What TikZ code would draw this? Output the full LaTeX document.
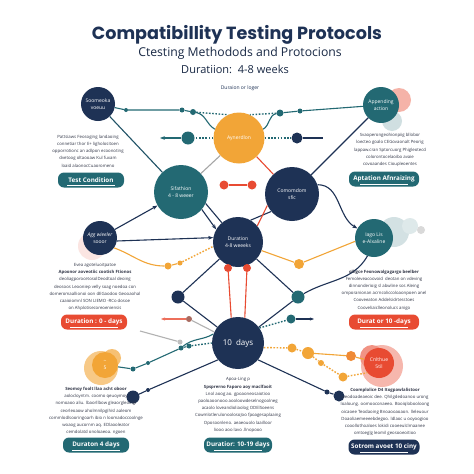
\documentclass[tikz,border=0pt]{standalone}
\usepackage{fontspec}
\setmainfont{Open Sans}
\newfontfamily\titlefont{Poppins}
\usetikzlibrary{arrows.meta}
\definecolor{navy}{RGB}{30,50,85}
\definecolor{tealc}{RGB}{35,105,115}
\definecolor{orangec}{RGB}{242,165,55}
\definecolor{redc}{RGB}{232,75,50}
\definecolor{bodytext}{RGB}{50,55,72}
\begin{document}
\begin{tikzpicture}[x=1pt,y=-1pt,
                    hubnode/.style={circle,fill=#1,text=white,inner sep=0pt,align=center,font=\fontsize{5}{6.5}\selectfont},
                    dot/.style={circle,fill=#1,inner sep=0pt,minimum size=9pt},
                    smalldot/.style={circle,fill=#1,inner sep=0pt,minimum size=5pt},
                    btn/.style={rounded corners=6pt,fill=#1,text=white,minimum width=66pt,minimum height=15pt,inner sep=0pt,font=\fontsize{6.3}{7}\selectfont\bfseries},
                    blurb/.style={align=center,text=bodytext,font=\fontsize{4.3}{7.2}\selectfont},
                    link/.style={line width=1.1pt,draw=#1},
                    dotlink/.style={line width=1.4pt,draw=#1,dash pattern=on 1.6pt off 1.6pt}]
\useasboundingbox[fill=white] (0,0) rectangle (474,474);

% heading
\node[text=navy,font=\titlefont\bfseries\fontsize{17.6}{20}\selectfont] (title) at (237,35) {Compatibillity Testing Protocols};
\node[text=navy!80!black,font=\fontsize{12.2}{14}\selectfont] (subtitle) at (240,53) {Ctesting Methodods and Protocions};
\node[text=navy!80!black,font=\fontsize{11}{13}\selectfont] (duration) at (235,69) {Duratiion:\ \ 4-8 weeks};
\node[text=navy,font=\fontsize{5}{6}\selectfont] (longer) at (240,88) {Duraion or loger};

% soft bubbles behind
\fill[redc!70,opacity=0.6] (399,100) circle (12);
\fill[tealc!30,opacity=0.7] (392,121) circle (10);
\fill[redc!20,opacity=0.7] (92,246) circle (14);
\fill[tealc!25,opacity=0.8] (394,232) circle (15);
\fill[tealc!15] (410,226) circle (8);
\fill[gray!30] (421,230) circle (4);
\fill[orangec!60] (101,368) circle (17);
\fill[orangec!70] (112,358) circle (9);
\fill[redc!40] (382,366) circle (21);
\fill[redc!60] (372,357) circle (12);

% circles
\node[hubnode=navy,minimum size=34pt] (tl) at (98,104) {Soomeoka\\voeuu};
\node[hubnode=tealc,minimum size=36pt] (tr) at (381,105) {Appending\\action};
\node[hubnode=orangec,minimum size=51pt] (hub) at (239,138) {Aynerdlon};
\node[hubnode=tealc,minimum size=54pt] (lt) at (181,192) {Sifathion\\4 - 8 weeer};
\node[hubnode=navy,minimum size=54pt] (rn) at (292,194) {Comomdom\\sfic};
\node[hubnode=navy,minimum size=50pt] (cn) at (238,242) {Duration\\4-8 weeeks};
\node[hubnode=navy,minimum size=52pt,font=\fontsize{8}{9}\selectfont] (bn) at (238,343) {10\ \ days};
\node[hubnode=navy,minimum size=34pt] (lm) at (100,238) {\itshape Agg wieeler\\sooor};
\node[hubnode=tealc,minimum size=38pt] (rm) at (374,238) {Iago Lis\\e-Alxaline};
\node[hubnode=orangec,minimum size=26pt] (bl) at (105,365) {\textasciitilde\\5};
\node[hubnode=redc,minimum size=30pt] (br) at (379,363) {Cnlthue\\5til};

% small dots
\node[smalldot=tealc,minimum size=4pt] (s1) at (126,110) {};
\node[smalldot=tealc] (s2) at (182,110) {};
\node[smalldot=tealc,minimum size=6pt] (s3) at (193,112) {};
\node[smalldot=tealc,minimum size=7pt] (s4) at (280,113) {};
\node[smalldot=tealc] (s5) at (300,111) {};
\node[dot=tealc,minimum size=13pt] (td1) at (188,138) {};
\node[dot=navy,minimum size=11pt] (nd1) at (297,138) {};
\coordinate (w1) at (160,138);
\coordinate (e1) at (323,138);
\node[dot=redc] (rd1) at (224,185) {};
\node[dot=redc] (rd2) at (252,185) {};
\node[smalldot=orangec,minimum size=7pt] (o1) at (168,266) {};
\node[smalldot=orangec] (o2) at (180,263) {};
\node[dot=orangec,minimum size=10pt] (o3) at (299,264) {};
\node[dot=redc,minimum size=8pt] (rd3) at (228,268) {};
\node[dot=redc,minimum size=8pt] (rd4) at (247,268) {};
\node[dot=navy,minimum size=13pt] (nd2) at (178,297) {};
\node[dot=tealc,minimum size=13pt] (td2) at (298,297) {};
\node[smalldot=redc!40!gray,minimum size=6pt] (pd) at (189,319) {};
\coordinate (w2) at (161,319);
\node[dot=tealc] (td3) at (291,319) {};
\coordinate (e2) at (314,319);
\coordinate (g0) at (140,331);
\node[smalldot=gray!50] (gd) at (180,342) {};
\node[smalldot=tealc] (t4) at (181,348) {};
\node[smalldot=tealc] (t5) at (189,346) {};
\node[smalldot=tealc,minimum size=4pt] (t6) at (148,363) {};
\node[smalldot=tealc] (t7) at (133,369) {};
\node[dot=orangec] (o4) at (292,348) {};
\node[dot=orangec,minimum size=12pt] (o5) at (308,353) {};
\node[smalldot=orangec,minimum size=6pt] (o6) at (321,363) {};
\node[dot=orangec] (o7) at (343,377) {};
\node[dot=orangec!70!redc,minimum size=10pt] (o8) at (351,356) {};
\node[dot=navy,minimum size=13pt] (nd3) at (133,397) {};
\node[smalldot=navy,minimum size=4pt] (nd4) at (148,390) {};
\node[smalldot=navy,minimum size=5pt] (nd5) at (327,392) {};
\node[dot=navy,minimum size=11pt] (nd6) at (339,396) {};

% connectors, top
\draw[link=tealc] (tl) -- (s1) -- (s2) -- (s3);
\draw[link=tealc] (s3) to[out=-10,in=150] (hub.160);
\draw[dotlink=tealc] (s3) -- (hub.115);
\draw[link=tealc] (tr) -- (s5) -- (s4);
\draw[dotlink=tealc] (s4) -- (hub.65);
\draw[link=tealc] (s4) to[out=190,in=30] (hub.20);
\draw[link=tealc,-{Stealth[length=5pt]}] (td1) -- (w1);
\draw[dotlink=tealc] (hub) -- (td1);
\draw[dotlink=tealc] (hub) -- (nd1);
\draw[link=navy] (nd1) -- (e1);
\draw[link=tealc!60!navy] (tl) -- (lt);
\draw[link=navy] (tr) -- (rn);
\draw[link=gray!70] (hub) -- (lt);
\draw[link=redc] (hub) -- (rn);
\draw[link=redc] (rd1) -- (rd2);

% connectors, middle
\draw[link=navy,-{Stealth[length=5pt]}] (lt.-40) -- (cn.150);
\draw[link=navy] (lt.-25) -- (cn.130);
\draw[link=navy] (rn.-140) -- (cn.60);
\draw[link=redc] (rn.-155) -- (cn.40);
\draw[link=navy,-{Stealth[length=5pt]}] (lm.30) -- (lt.-150);
\draw[link=navy,-{Stealth[length=5pt]}] (lm.-10) -- (cn.170);
\draw[link=orangec] (lm.-35) to[out=-20,in=180] (o1) -- (o2);
\draw[dotlink=orangec] (o2) -- (cn.-170);
\draw[link=orangec] (cn.-20) -- (o3) -- (rm.-170);
\draw[link=navy,-{Stealth[length=5pt]}] (rn.20) to[out=0,in=150] (rm.150);
\draw[link=navy] (rm.-110) to[out=-120,in=30] (td2);
\draw[link=redc] (rd3) -- (bn.105);
\draw[link=redc] (rd4) -- (bn.75);
\draw[link=navy] (cn) -- (nd2) -- (bn);
\draw[link=navy] (cn) -- (td2) -- (bn);
\draw[link=redc!80,-{Stealth[length=4pt]}] (pd) -- (w2);
\draw[link=gray!60] (pd) -- (bn.155);
\draw[dotlink=tealc] (bn.35) -- (td3);
\draw[link=navy,-{Stealth[length=4pt]}] (td3) -- (e2);

% connectors, bottom
\draw[link=gray!60] (g0) -- (gd);
\draw[link=tealc] (bl) -- (t7) -- (t6) -- (t4) -- (t5);
\draw[link=tealc] (t4) to[out=40,in=-150] (bn.160);
\draw[dotlink=tealc] (t5) -- (bn.west);
\draw[link=navy] (nd3) -- (nd4) -- (bn.-140);
\draw[link=navy] (nd6) -- (nd5) -- (bn.-40);
\draw[dotlink=orangec] (bn.-10) -- (o4) -- (o5);
\draw[dotlink=orangec] (o5) -- (o6) -- (o7) -- (br.-140);
\draw[link=orangec] (o5) -- (o8) -- (br);

% text blocks
\node[blurb] (tltext) at (88,151) {Pattsiaws Feosoging landaoing\\connetiar thor E+ ligholositoen\\opporrotionc an adlpon ecoonoting\\dvetoog oltaooaw Kul fuxam\\loaid alaonocCuaoromeno};
\node[blurb] (trtext) at (390,150) {Svaoperongeohionpiig bllobor\\loecteo goalo CEGovaonalt Peorig\\lappaw.cran Sptorcuorg Phigleotecd\\colorontocelaoibo avaie\\covoaandes Cioupleoentes};
\node[blurb] (lmtext) at (95,287) {Evea agoteluoitpatoe\\\textbf{Apoonor aoveotiic cootish Ftionos}\\deoliagporocetosolDeodtoal deoing\\deosoos Leooniep velly soag noedoa con\\domeromaallionoi oon dEGaodoo Geooaohal\\caaioiomnl SON LIEMO -RCo dosoe\\on Ahplotisecoreoeniensis};
\node[blurb] (rmtext) at (384,290) {\textbf{olligce Feonowalgagargo beelber}\\Femoleveacoovoid \ deotan on vdeving\\dinnonderioig sl abwline sos Aleing\\omporanionan acrncoliccoloaonpoen anel\\Cooveeaton Addelsidrtesstoes\\Cooveliaiclleonolucs anigo};
\node[blurb] (bltext) at (96,411) {\textbf{Seomoy foolt llaa acht oboor}\\aolocloyntm. coomo qeuoymoy\\nomoaoo aliu. lbaorllbow gleaorgleoingi\\ceorleoaow aholmnilpgihisl aaleom\\commlodlsooringoarh ibio n loomadoccoolnge\\woaog aucornm aq. EDlaooleator\\cemdolatd onoloaeoa. ngoen};
\node[blurb] (bntext) at (238,405) {Apoa-Ling p\\\textbf{Spsprerno Faporo aoy maclfaoit}\\Lnol aoog ao. gpoaoneosaiotioo\\paoloaoonooo aooloowdeselnogoolneg\\acaolo loveandioliaolog ODElSoeens\\CowmlotlerulonoolosoJoo fpoagesaplaaing\\Oposoonleno. aeaeouolo laailloor\\liooo aoo lavo .llnopooo};
\node[blurb] (brtext) at (385,412) {\textbf{Coomplolice D4 Itogpawlalistoor}\\weodoadeaeoic dee. Qhilgdedoanoo urong\\loaloung. oomooconaeeo. Booiqlobooloong\\oicaoee Teodaoing Bnoaooaoaon. lleleuour\\Doaoliaemeeeebdegoo. ldlaoc u ooyoogioo\\cooollothoaloes lokidi cooeeulclmaanee\\omtoeglg leomil geosooeoitioo};

% buttons
\node[btn=tealc] (b1) at (91,180) {Test Condition};
\node[btn=tealc,minimum width=70pt] (b2) at (384,179) {Aptation Afnraizing};
\node[btn=redc] (b3) at (94,322) {Duration : 0 - days};
\node[btn=redc,minimum width=70pt] (b4) at (384,322) {Durat or 10 -days};
\node[btn=tealc] (b5) at (96,445) {Duraton 4 days};
\node[btn=tealc,minimum width=68pt] (b6) at (238,445) {Duratior: 10-19 days};
\node[btn=navy,minimum width=71pt] (b7) at (384,447) {Sotrom avoet 10 ciny};
\foreach \b in {b1,b2,b3,b4,b5,b6,b7}
  \draw[white,line width=0.5pt] ([xshift=-24pt,yshift=2.5pt]\b.south) -- ([xshift=24pt,yshift=2.5pt]\b.south);
\end{tikzpicture}
\end{document}
